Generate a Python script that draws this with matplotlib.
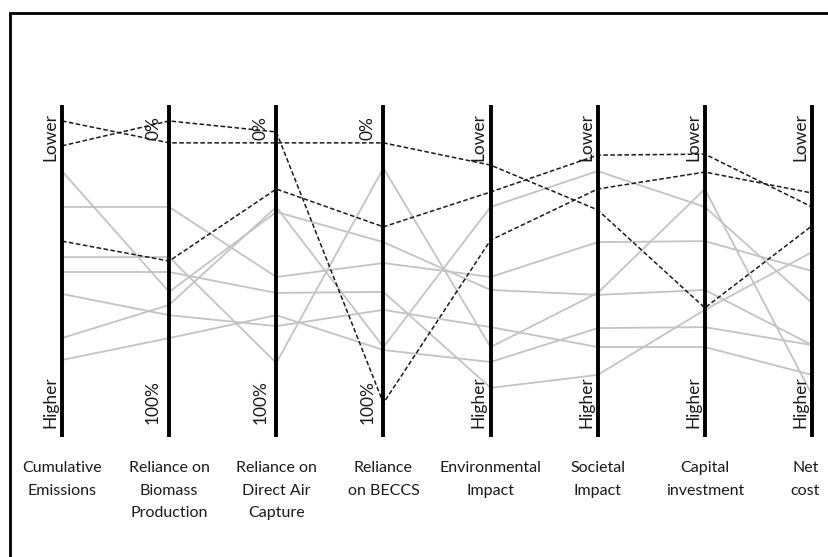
import matplotlib
matplotlib.use("Agg")
import matplotlib.pyplot as plt
from matplotlib.patches import Rectangle

plt.rcParams['font.family'] = ['Lato', 'DejaVu Sans']

# Criteria shown on the parallel axes
categories = ["Cumulative\nEmissions", "Reliance on\nBiomass\nProduction",
              "Reliance on\nDirect Air\nCapture", "Reliance\non BECCS",
              "Environmental\nImpact", "Societal\nImpact", "Capital\ninvestment",
              "Net\ncost"]
top_labels = ["Lower", "0%", "0%", "0%", "Lower", "Lower", "Lower", "Lower"]
bottom_labels = ["Higher", "100%", "100%", "100%", "Higher", "Higher", "Higher", "Higher"]

# Position of each pathway along every axis (0 = top of axis, 100 = bottom)
highlight_a = [4.8, 11.4, 11.4, 11.4, 18.1, 31.6, 61.1, 36.4]
highlight_b = [12.3, 4.8, 8.1, 89.8, 40.7, 25.3, 20.2, 26.5]
highlight_c = [41.0, 47.0, 25.3, 36.7, 26.2, 15.1, 14.8, 30.7]

pathway_1 = [19.9, 56.3, 32.2, 41.3, 55.7, 57.2, 55.7, 72.3]
pathway_2 = [30.7, 30.7, 51.8, 47.6, 51.8, 41.3, 41.0, 50.0]
pathway_3 = [45.8, 45.8, 77.7, 19.0, 72.9, 56.6, 25.3, 87.3]
pathway_4 = [50.3, 50.3, 56.6, 56.3, 85.2, 81.3, 61.7, 44.3]
pathway_5 = [56.9, 63.3, 66.6, 61.7, 66.9, 72.9, 72.9, 81.3]
pathway_6 = [70.2, 60.2, 30.7, 72.9, 30.7, 19.9, 30.7, 59.6]
pathway_7 = [76.8, 70.2, 63.3, 73.8, 77.4, 67.2, 66.9, 72.3]

highlights = [highlight_a, highlight_b, highlight_c]
pathways = [pathway_1, pathway_2, pathway_3, pathway_4, pathway_5, pathway_6, pathway_7]

fig = plt.figure(figsize=(8.29, 5.57), dpi=100)
ax = fig.add_axes([0, 0, 1, 1])
ax.set_xlim(-0.5787, 7.159)
ax.set_ylim(136.14, -31.63)
ax.axis('off')

xs = list(range(len(categories)))

for p in pathways:
    ax.plot(xs, p, color='#c3c3c3', lw=1.3, zorder=2)
for h in highlights:
    ax.plot(xs, h, color='#1a1a1a', lw=1.1, ls=(0, (3, 1.6)), zorder=3)

for i in xs:
    ax.plot([i, i], [0, 100], color='black', lw=2.8, zorder=4, solid_capstyle='butt')
    is_pct = top_labels[i].endswith('%')
    dx = 0.15 if is_pct else 0.11
    ax.text(i - dx, 6.8 if is_pct else 9.5, top_labels[i], rotation=90,
            ha='center', va='center', fontsize=12.5, color='#1a1a1a', zorder=5)
    ax.text(i - dx, 89.5, bottom_labels[i], rotation=90, ha='center',
            va='center', fontsize=12.5, color='#1a1a1a', zorder=5)
    shift = -0.06 if i == len(xs) - 1 else 0.0
    ax.text(i + shift, 107.3, categories[i], ha='center', va='top', fontsize=11.5,
            color='#1a1a1a', linespacing=1.75)

# Frame around the figure
fig.patches.append(Rectangle((10 / 829, -0.2), 1.2, 1.2 - 13 / 557,
                             transform=fig.transFigure, fill=False,
                             edgecolor='black', lw=2.0, zorder=10))

fig.savefig("out.png", dpi=100)
